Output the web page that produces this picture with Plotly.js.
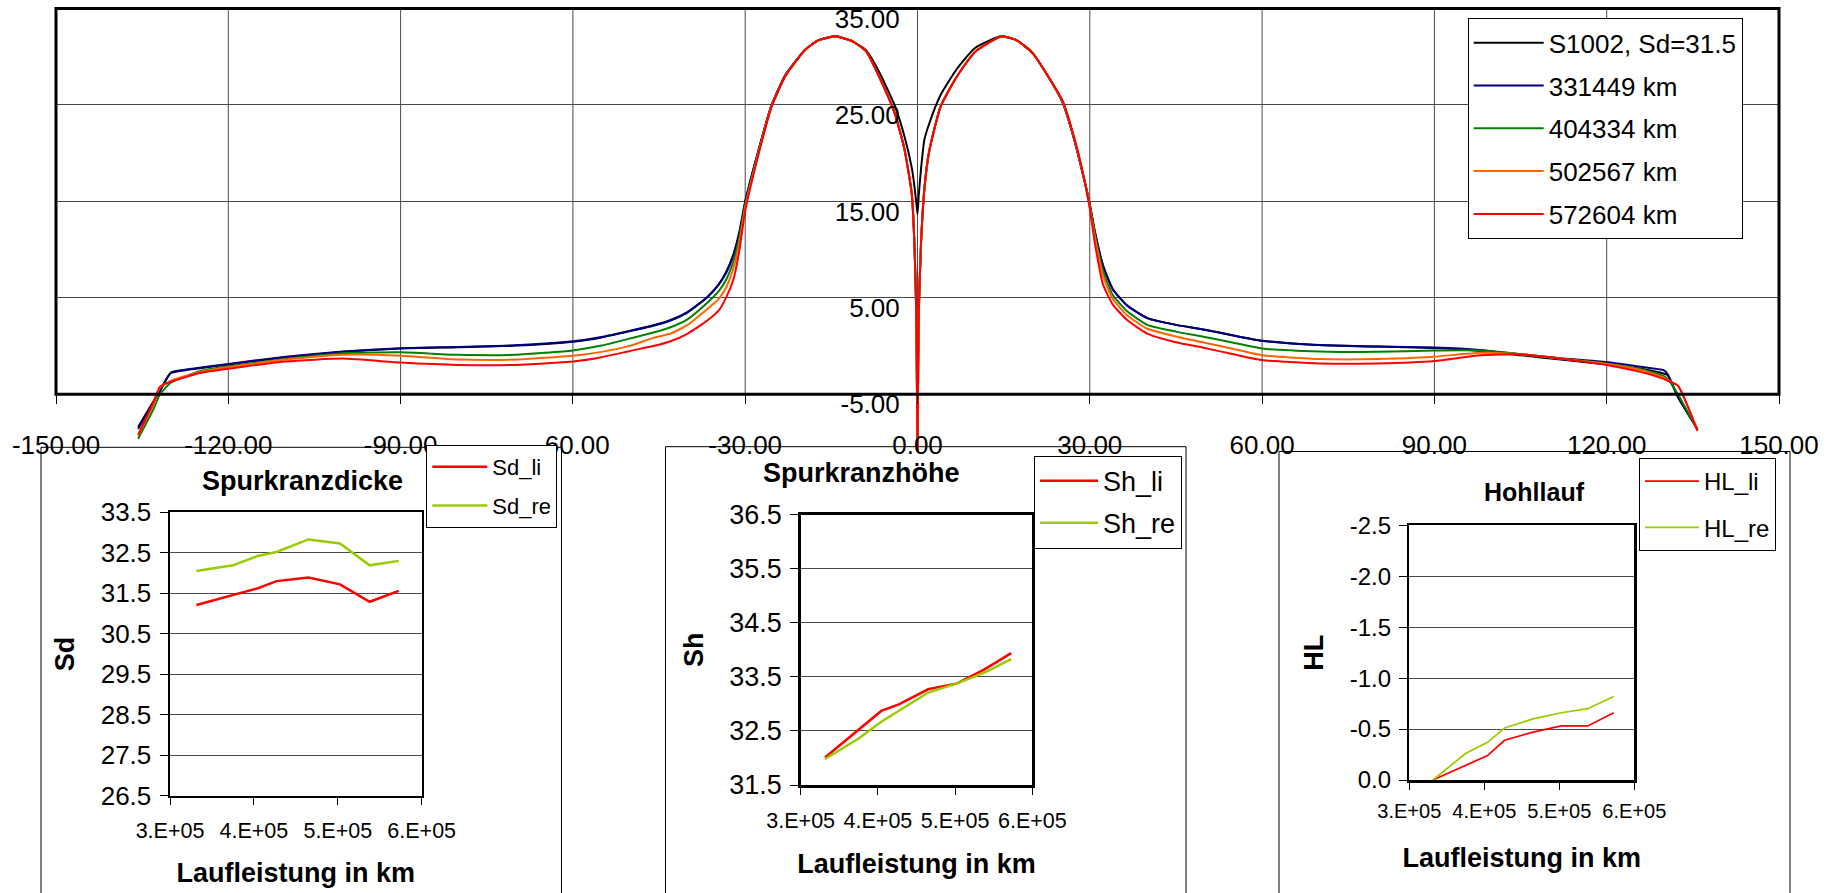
<!DOCTYPE html>
<html>
<head>
<meta charset="utf-8">
<script src="https://cdn.plot.ly/plotly-3.0.1.min.js"></script>
<style>
  html, body { margin: 0; padding: 0; background: #fff; }
  #chart { width: 1833px; height: 893px; }
</style>
</head>
<body>
<div id="chart"></div>
<script>
// ---- Wheel profile: lateral position and height ----
const profileX = [-135.7, -133, -131.9, -130, -125, -120, -110, -100, -90, -80, -70, -60, -55, -50, -46, -43, -40,
  -36.6, -34.6, -33.3, -32, -31, -30, -28, -25.4, -23, -19.6, -17.3, -14.3, -11.3, -9, -6.65, -4, -2.3, -1, -0.5, -0.2,
  0, 0.2, 0.6, 1.2, 2, 4, 6.7, 10, 14.6, 17.3, 20, 22.6, 25.3, 27.3, 28.6, 29.9, 30.9, 32.3, 34, 36.5, 40, 45, 50, 55,
  60, 70, 80, 90, 98, 105, 112, 120, 126, 129.9, 130.6, 132.4, 135.8];

const profileS1002 = [-8.4, -5.7, -4.6, -2.8, -2.3, -1.9, -1.15, -0.6, -0.25, -0.12, 0.05, 0.45, 0.9, 1.55, 2.1, 2.65, 3.5,
  5.05, 6.4, 7.7, 9.6, 11.9, 15.0, 19.6, 25.0, 28.1, 30.7, 31.7, 32.14, 31.6, 30.7, 28.4, 25.0, 21.8, 18.5, 16.4, 14.8,
  13.7, 15.5, 18.3, 21.4, 23.0, 26.0, 28.6, 30.9, 32.14, 31.7, 30.4, 28.1, 25.2, 21.4, 18.3, 15.0, 11.8, 8.3, 5.9, 4.2,
  2.9, 2.2, 1.7, 1.1, 0.55, 0.1, -0.05, -0.2, -0.5, -0.95, -1.4, -1.9, -2.35, -2.85, -3.0, -5.3, -8.6];

const profile331449 = [-8.6, -5.8, -4.7, -2.75, -2.25, -1.85, -1.1, -0.55, -0.22, -0.1, 0.08, 0.5, 0.95, 1.6, 2.15, 2.7, 3.55,
  5.1, 6.4, 7.6, 9.5, 11.6, 14.9, 19.6, 25.0, 28.1, 30.7, 31.7, 32.1, 31.6, 30.6, 27.9, 24.2, 20.5, 15.8, 10.0, 3.0,
  -10.8, 3.0, 10.5, 16.3, 20.1, 24.8, 27.8, 30.5, 32.1, 31.7, 30.4, 28.1, 25.2, 21.4, 18.3, 15.0, 11.8, 8.4, 5.9, 4.2,
  2.9, 2.2, 1.7, 1.1, 0.55, 0.12, -0.05, -0.15, -0.4, -0.85, -1.25, -1.65, -2.15, -2.5, -2.9, -5.2, -8.6];

const profile404334 = [-9.6, -6.5, -5.0, -3.8, -2.6, -2.1, -1.35, -0.75, -0.65, -0.9, -0.9, -0.45, 0.05, 0.8, 1.4, 1.95, 2.8,
  4.5, 5.7, 6.9, 8.9, 11.3, 14.6, 19.4, 24.9, 28.0, 30.7, 31.7, 32.1, 31.6, 30.6, 27.9, 24.2, 20.5, 15.8, 10.0, 3.0,
  -10.8, 3.0, 10.5, 16.3, 20.1, 24.8, 27.8, 30.5, 32.1, 31.7, 30.4, 28.1, 25.3, 21.5, 18.4, 14.9, 11.5, 7.8, 5.3, 3.6,
  2.2, 1.5, 0.95, 0.35, -0.25, -0.55, -0.6, -0.45, -0.45, -0.85, -1.3, -1.8, -2.4, -3.1, -3.4, -5.0, -8.7];

const profile502567 = [-9.3, -6.0, -4.3, -3.6, -2.7, -2.2, -1.4, -0.9, -1.0, -1.4, -1.4, -1.0, -0.6, 0.05, 0.85, 1.3, 2.2,
  3.85, 4.9, 6.1, 8.2, 10.8, 14.4, 19.3, 24.9, 28.0, 30.7, 31.7, 32.1, 31.6, 30.6, 27.9, 24.2, 20.5, 15.8, 10.0, 3.0,
  -10.8, 3.0, 10.5, 16.3, 20.1, 24.8, 27.8, 30.5, 32.1, 31.7, 30.4, 28.1, 25.3, 21.5, 18.4, 14.8, 11.2, 7.3, 4.9, 3.2,
  1.8, 1.0, 0.35, -0.3, -0.95, -1.35, -1.35, -1.1, -0.7, -0.85, -1.3, -1.85, -2.5, -3.25, -3.5, -4.1, -8.7];

const profile572604 = [-9.2, -5.8, -4.2, -3.7, -2.8, -2.35, -1.6, -1.3, -1.7, -1.95, -1.95, -1.6, -1.15, -0.5, 0.0, 0.5, 1.3,
  2.65, 3.7, 5.05, 7.0, 10.0, 14.0, 19.1, 24.8, 28.0, 30.7, 31.7, 32.1, 31.6, 30.6, 27.9, 24.2, 20.5, 15.8, 10.0, 3.0,
  -10.8, 3.0, 10.5, 16.3, 20.1, 24.8, 27.8, 30.5, 32.1, 31.7, 30.4, 28.1, 25.4, 21.6, 18.5, 14.6, 10.6, 6.4, 4.3, 2.7,
  1.3, 0.4, -0.2, -0.85, -1.45, -1.8, -1.8, -1.55, -0.95, -0.85, -1.3, -1.95, -2.7, -3.4, -3.6, -4.1, -8.8];

const profileNames = ['S1002, Sd=31.5', '331449 km', '404334 km', '502567 km', '572604 km'];
const profileColors = ['#000000', '#000080', '#008000', '#FF6600', '#FF0000'];
const profileSeries = [profileS1002, profile331449, profile404334, profile502567, profile572604];

// ---- Wear parameters over mileage ----
const mileageKm = [331449, 375000, 404334, 427000, 465000, 502567, 538000, 572604];
const sdLi = [31.21, 31.46, 31.62, 31.80, 31.89, 31.72, 31.29, 31.56];
const sdRe = [32.05, 32.19, 32.42, 32.52, 32.83, 32.73, 32.19, 32.30];
const shLi = [32.01, 32.52, 32.87, 32.99, 33.27, 33.38, 33.64, 33.94];
const shRe = [31.98, 32.36, 32.67, 32.87, 33.21, 33.38, 33.58, 33.83];
const hlLi = [0.0, -0.14, -0.24, -0.39, -0.47, -0.53, -0.53, -0.66];
const hlRe = [0.0, -0.26, -0.37, -0.51, -0.60, -0.66, -0.70, -0.82];

// ---- Tick labels ----
const mainXTicks = [-150, -120, -90, -60, -30, 0, 30, 60, 90, 120, 150];
const mainXTickText = ['-150.00', '-120.00', '-90.00', '-60.00', '-30.00', '0.00', '30.00', '60.00', '90.00', '120.00', '150.00'];
const mainYTicks = [-5, 5, 15, 25, 35];
const mainYTickText = ['-5.00', '5.00', '15.00', '25.00', '35.00'];
const kmTicks = [300000, 400000, 500000, 600000];
const kmTickText = ['3.E+05', '4.E+05', '5.E+05', '6.E+05'];
const sdTicks = [26.5, 27.5, 28.5, 29.5, 30.5, 31.5, 32.5, 33.5];
const sdTickText = ['26.5', '27.5', '28.5', '29.5', '30.5', '31.5', '32.5', '33.5'];
const shTicks = [31.5, 32.5, 33.5, 34.5, 35.5, 36.5];
const shTickText = ['31.5', '32.5', '33.5', '34.5', '35.5', '36.5'];
const hlTicks = [0, -0.5, -1.0, -1.5, -2.0, -2.5];
const hlTickText = ['0.0', '-0.5', '-1.0', '-1.5', '-2.0', '-2.5'];

// ---- Page geometry helpers (pixel -> paper fraction) ----
const W = 1833, H = 893;
const fx = p => p / W;
const fy = p => 1 - p / H;
const FONT = 'Liberation Sans, Arial, Helvetica, sans-serif';
const GRID = '#4a4a4a';

// ---- Traces ----
const traces = [];
profileSeries.forEach((ys, i) => {
  traces.push({
    type: 'scatter', mode: 'lines', x: profileX, y: ys, name: profileNames[i],
    xaxis: 'x', yaxis: 'y', legend: 'legend', legendgroup: 'p' + i,
    line: { color: profileColors[i], width: 2, shape: 'spline', smoothing: 0.5 }
  });
});

function wearPair(xa, ya, li, re, nLi, nRe, legendId, width) {
  traces.push({ type: 'scatter', mode: 'lines', x: mileageKm, y: li, name: nLi, xaxis: xa, yaxis: ya,
    legend: legendId, legendgroup: legendId + 'a', line: { color: '#FF0000', width: width } });
  traces.push({ type: 'scatter', mode: 'lines', x: mileageKm, y: re, name: nRe, xaxis: xa, yaxis: ya,
    legend: legendId, legendgroup: legendId + 'b', line: { color: '#99CC00', width: width } });
}
wearPair('x2', 'y2', sdLi, sdRe, 'Sd_li', 'Sd_re', 'legend2', 2.5);
wearPair('x3', 'y3', shLi, shRe, 'Sh_li', 'Sh_re', 'legend3', 2.5);
wearPair('x4', 'y4', hlLi, hlRe, 'HL_li', 'HL_re', 'legend4', 1.75);

// ---- Axis builders for the three small charts ----
function kmAxis(x0, x1, anchor, fontSize, labelGap, titleGap) {
  return {
    domain: [fx(x0), fx(x1)], anchor: anchor, range: [300000, 600000],
    tickvals: kmTicks, ticktext: kmTickText, ticks: 'outside', ticklen: 7, tickcolor: '#000',
    showline: true, mirror: true, linecolor: '#000', linewidth: 2.5,
    showgrid: false, zeroline: false, tickfont: { size: fontSize }, ticklabelstandoff: labelGap,
    title: { text: 'Laufleistung in km', font: { size: 27, weight: 'bold' }, standoff: titleGap }
  };
}
function valAxis(top, bottom, anchor, range, tv, tt, fontSize, title) {
  return {
    domain: [fy(bottom), fy(top)], anchor: anchor, range: range,
    tickvals: tv, ticktext: tt, ticks: 'outside', ticklen: 8, tickcolor: '#000',
    showline: true, mirror: true, linecolor: '#000', linewidth: 2.5,
    showgrid: true, gridcolor: GRID, gridwidth: 1, zeroline: false, tickfont: { size: fontSize },
    ticklabelstandoff: 3,
    title: { text: title, font: { size: 27, weight: 'bold' }, standoff: 18 }
  };
}

// ---- Shapes: main plot frame, vertical grid, chart boxes ----
const shapes = [];
mainXTicks.filter(v => v > -150 && v < 150).forEach(v => {
  shapes.push({ type: 'line', xref: 'x', yref: 'y', x0: v, x1: v, y0: -5, y1: 35,
    line: { color: GRID, width: 1 }, layer: 'below' });
});
// outer frame of the profile plot (from -5 up to 35, across the full x range)
shapes.push({ type: 'rect', xref: 'paper', yref: 'paper', x0: fx(56), x1: fx(1779), y0: fy(394.3), y1: fy(8.5),
  line: { color: '#000', width: 3 }, layer: 'above' });
[[41, 561.5, 447.3], [665.5, 1186, 446.7], [1279, 1790, 451.5]].forEach(b => {
  shapes.push({ type: 'rect', xref: 'paper', yref: 'paper', x0: fx(b[0]), x1: fx(b[1]), y0: fy(b[2]), y1: fy(910),
    line: { color: '#000', width: 1 }, layer: 'below' });
});

// ---- Chart titles of the small charts ----
const annotations = [
  ['Spurkranzdicke', 302.5, 480.7, 27],
  ['Spurkranzhöhe', 861.2, 473.3, 27],
  ['Hohllauf', 1534, 491.7, 25]
].map(a => ({ text: a[0], x: fx(a[1]), y: fy(a[2]), xref: 'paper', yref: 'paper', xanchor: 'center', yanchor: 'middle',
  showarrow: false, font: { size: a[3], weight: 'bold' } }));

function legendBox(left, top, size, gap, itemW) {
  return { x: fx(left), y: fy(top), xanchor: 'left', yanchor: 'top', bgcolor: '#fff', bordercolor: '#000',
    borderwidth: 1, font: { size: size }, traceorder: 'grouped', tracegroupgap: gap, itemwidth: itemW };
}

const layout = {
  width: W, height: H, margin: { l: 0, r: 0, t: 0, b: 0 },
  paper_bgcolor: '#fff', plot_bgcolor: 'rgba(0,0,0,0)',
  font: { family: FONT, color: '#000' },
  showlegend: true,
  xaxis: {
    domain: [fx(56), fx(1779)], range: [-150, 150], anchor: 'free', position: fy(394.3),
    tickvals: mainXTicks, ticktext: mainXTickText, ticks: 'outside', ticklen: 9, tickcolor: '#000',
    showgrid: false, zeroline: false, showline: false, tickfont: { size: 26 }, ticklabelstandoff: 18
  },
  yaxis: {
    domain: [fy(457), fy(8.5)], range: [-11.5, 35], anchor: 'free', position: fx(917.75),
    tickvals: mainYTicks, ticktext: mainYTickText, ticks: '', showgrid: true, gridcolor: GRID, gridwidth: 1,
    zeroline: false, showline: false, tickfont: { size: 26 }, ticklabelstandoff: 18, ticklabelshift: 10
  },
  xaxis2: kmAxis(170, 421.7, 'y2', 21.5, 7, 21),
  yaxis2: valAxis(512.3, 795.7, 'x2', [26.5, 33.5], sdTicks, sdTickText, 26, 'Sd'),
  xaxis3: kmAxis(800.7, 1032.4, 'y3', 21.5, 8, 22),
  yaxis3: valAxis(514.7, 785, 'x3', [31.5, 36.5], shTicks, shTickText, 27, 'Sh'),
  xaxis4: kmAxis(1409.3, 1634.3, 'y4', 20, 4, 28),
  yaxis4: valAxis(525.3, 780, 'x4', [0, -2.5], hlTicks, hlTickText, 24, 'HL'),
  legend: legendBox(1467.7, 18.3, 26, 6, 70),
  legend2: legendBox(426.3, 445, 22, 7, 55),
  legend3: legendBox(1034, 455.7, 27, 4, 58),
  legend4: legendBox(1639, 458, 24, 12, 54),
  shapes: shapes,
  annotations: annotations
};

Plotly.newPlot('chart', traces, layout, { displayModeBar: false, staticPlot: true });
</script>
</body>
</html>
